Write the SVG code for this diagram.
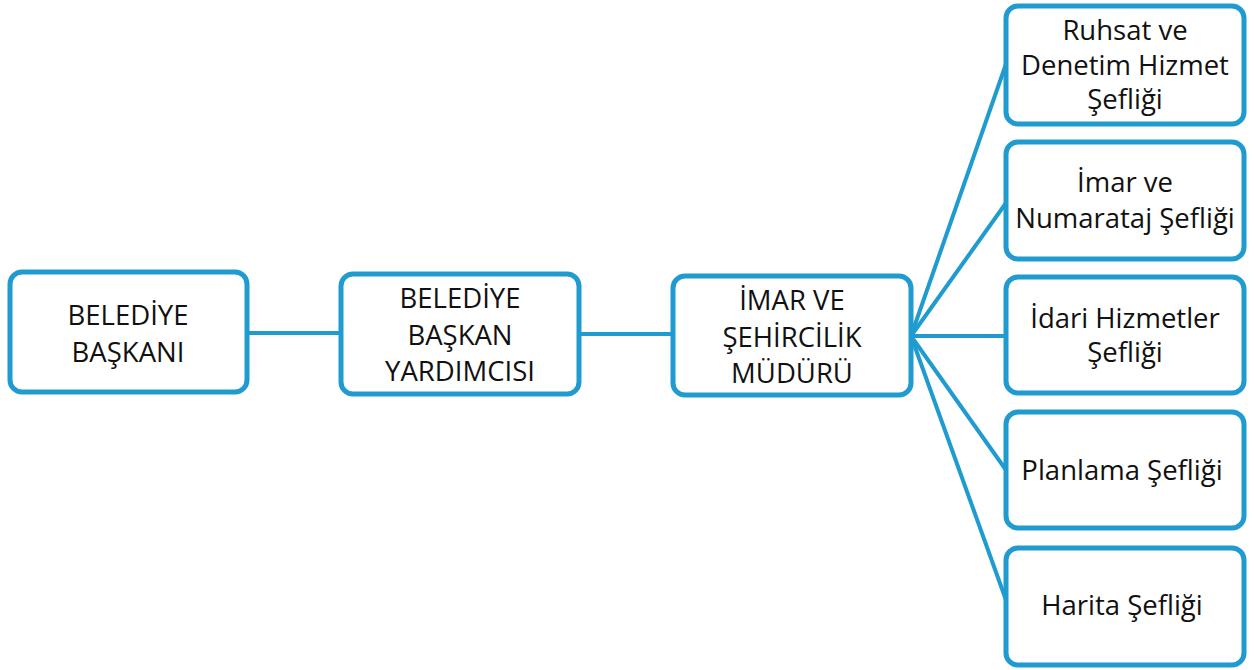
<svg xmlns="http://www.w3.org/2000/svg" width="1254" height="670" viewBox="0 0 1254 670">
<style>
.box{fill:#fff;stroke:#1f9bcf;stroke-width:5}
.ln{stroke:#1f9bcf;stroke-width:4;fill:none}
text{font-family:"Open Sans","Noto Sans",sans-serif;font-size:27.5px;fill:#111;text-anchor:middle}
</style>
<rect width="1254" height="670" fill="#fff"/>
<g id="connectors">
<line class="ln" x1="247" y1="333" x2="340" y2="333"/>
<line class="ln" x1="579" y1="334" x2="672" y2="334"/>
<line class="ln" x1="911" y1="336" x2="1006" y2="64"/>
<line class="ln" x1="911" y1="336" x2="1006" y2="203"/>
<line class="ln" x1="911" y1="336" x2="1006" y2="336"/>
<line class="ln" x1="911" y1="336" x2="1006" y2="470"/>
<line class="ln" x1="911" y1="336" x2="1006" y2="600"/>
</g>
<g id="n1"><rect class="box" x="10" y="272" width="237" height="120" rx="12"/>
<text x="128" y="325">BELEDİYE</text><text x="128" y="362">BAŞKANI</text></g>
<g id="n2"><rect class="box" x="341" y="274" width="238" height="120" rx="12"/>
<text x="460" y="308">BELEDİYE</text><text x="460" y="345">BAŞKAN</text><text x="460" y="381">YARDIMCISI</text></g>
<g id="n3"><rect class="box" x="673" y="276" width="238" height="119" rx="12"/>
<text x="792" y="310">İMAR VE</text><text x="792" y="347">ŞEHİRCİLİK</text><text x="792" y="383">MÜDÜRÜ</text></g>
<g id="r1"><rect class="box" x="1006" y="6" width="238" height="118" rx="12"/>
<text x="1125" y="40">Ruhsat ve</text><text x="1125" y="75">Denetim Hizmet</text><text x="1125" y="109">Şefliği</text></g>
<g id="r2"><rect class="box" x="1006" y="142" width="238" height="117" rx="12"/>
<text x="1125" y="192">İmar ve</text><text x="1125" y="228">Numarataj Şefliği</text></g>
<g id="r3"><rect class="box" x="1006" y="277" width="238" height="116" rx="12"/>
<text x="1125" y="328">İdari Hizmetler</text><text x="1125" y="362">Şefliği</text></g>
<g id="r4"><rect class="box" x="1006" y="412" width="238" height="116" rx="12"/>
<text x="1122" y="480">Planlama Şefliği</text></g>
<g id="r5"><rect class="box" x="1006" y="548" width="238" height="117" rx="12"/>
<text x="1122" y="615">Harita Şefliği</text></g>
</svg>
